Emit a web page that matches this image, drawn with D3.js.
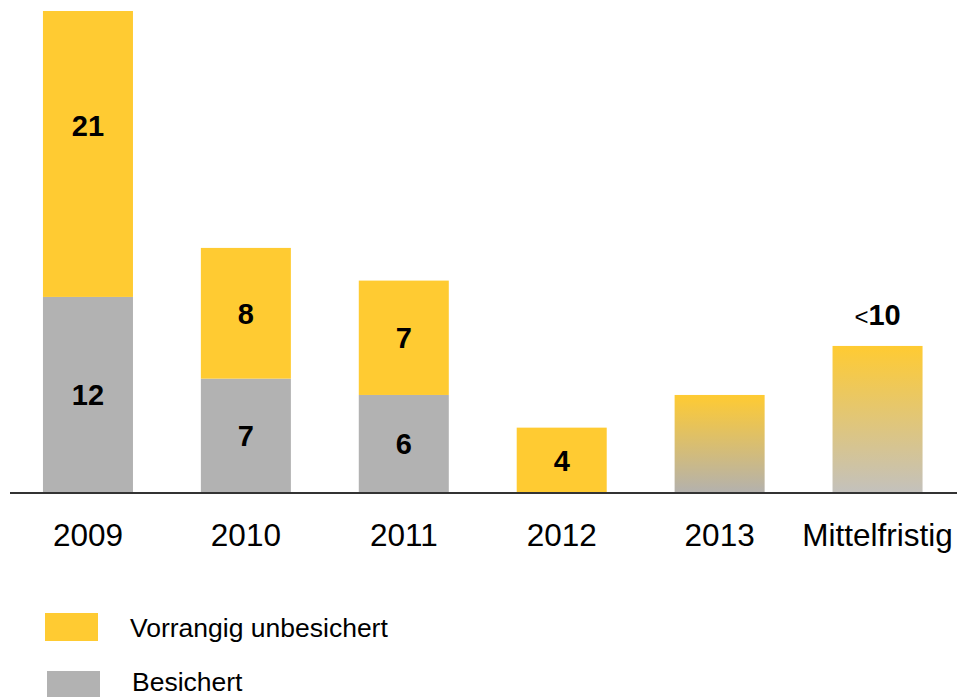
<!DOCTYPE html>
<html>
<head>
<meta charset="utf-8">
<script src="https://cdn.jsdelivr.net/npm/d3@7"></script>
<style>
  body { margin: 0; background: #fff; }
  text { font-family: Arial, "Liberation Sans", sans-serif; }
  .tick-label { font-size: 31.5px; fill: #000; }
  .value { font-size: 29px; font-weight: bold; fill: #000; }
  .legend-label { font-size: 26.5px; fill: #000; }
</style>
</head>
<body>
<svg class="chart" width="960" height="697"></svg>
<script>
// data
const years = ['2009', '2010', '2011', '2012', '2013', 'Mittelfristig']
const besichert = [12, 7, 6, 0, null, null]
const unbesichert = [21, 8, 7, 4, null, null]
// outlook bars (gradient, no split)
const outlook = [null, null, null, null, 6, 9]
const outlookLabels = [null, null, null, null, null, '10']
const seriesNames = ['Vorrangig unbesichert', 'Besichert']

const yellow = '#ffcb32'
const gray = '#b2b2b2'

const svg = d3.select('.chart')
const baseY = 493

const x = d3.scaleBand()
  .domain(years)
  .range([9, 956.5])
  .paddingInner(0.43)
  .paddingOuter(0.215)

// 2009 bar is cut off at the top of the picture
const y = d3.scaleLinear()
  .domain([0, 29.5])
  .range([baseY, 11])
  .clamp(true)
const yFree = y.copy().clamp(false)

const defs = svg.append('defs')
const gradEnds = { '2013': '#b3b1ae', 'Mittelfristig': '#c3c1bd' }
Object.keys(gradEnds).forEach((k, i) => {
  const lg = defs.append('linearGradient')
    .attr('id', 'grad' + i)
    .attr('x1', 0).attr('y1', 0).attr('x2', 0).attr('y2', 1)
  lg.append('stop').attr('offset', '0%').attr('stop-color', yellow)
  lg.append('stop').attr('offset', '100%').attr('stop-color', gradEnds[k])
})

const rows = years.map((yr, i) => ({
  year: yr,
  low: besichert[i] || 0,
  high: unbesichert[i] || 0,
  outlook: outlook[i],
  outLabel: outlookLabels[i]
}))

const bars = svg.append('g')

// gray segments
bars.selectAll('.seg-low')
  .data(rows.filter(d => d.low > 0))
  .enter()
  .append('rect')
  .attr('x', d => x(d.year))
  .attr('width', x.bandwidth())
  .attr('y', d => y(d.low))
  .attr('height', d => baseY - y(d.low))
  .attr('fill', gray)

// yellow segments
bars.selectAll('.seg-high')
  .data(rows.filter(d => d.high > 0))
  .enter()
  .append('rect')
  .attr('x', d => x(d.year))
  .attr('width', x.bandwidth())
  .attr('y', d => y(d.low + d.high))
  .attr('height', d => y(d.low) - y(d.low + d.high))
  .attr('fill', yellow)

// gradient bars
bars.selectAll('.seg-out')
  .data(rows.filter(d => d.outlook))
  .enter()
  .append('rect')
  .attr('x', d => x(d.year))
  .attr('width', x.bandwidth())
  .attr('y', d => y(d.outlook))
  .attr('height', d => baseY - y(d.outlook))
  .attr('fill', (d, i) => 'url(#grad' + i + ')')

// value labels, centred on the full (unclipped) segment
const labels = []
rows.forEach(d => {
  if (d.low > 0) labels.push({ year: d.year, v: d.low, mid: (yFree(0) + yFree(d.low)) / 2 })
  if (d.high > 0) labels.push({ year: d.year, v: d.high, mid: (yFree(d.low) + yFree(d.low + d.high)) / 2 })
})
svg.append('g').selectAll('text')
  .data(labels)
  .enter()
  .append('text')
  .attr('class', 'value')
  .attr('x', d => x(d.year) + x.bandwidth() / 2)
  .attr('y', d => d.mid + 10.5)
  .attr('text-anchor', 'middle')
  .text(d => d.v)

// "<10" above the last bar
const outText = svg.append('g').selectAll('text')
  .data(rows.filter(d => d.outLabel))
  .enter()
  .append('text')
  .attr('class', 'value')
  .attr('x', d => x(d.year) + x.bandwidth() / 2)
  .attr('y', d => y(d.outlook) - 21)
  .attr('text-anchor', 'middle')
outText.append('tspan').attr('font-weight', 'normal').attr('font-size', '24px').text('<')
outText.append('tspan').text(d => d.outLabel)

// baseline axis
const axis = svg.append('g')
  .attr('transform', `translate(0,${baseY})`)
  .call(d3.axisBottom(x).tickSize(0).tickPadding(25))
axis.select('.domain')
  .attr('d', 'M10,0H957')
  .attr('stroke', '#333')
  .attr('stroke-width', 2)
axis.selectAll('.tick text')
  .attr('class', 'tick-label')
  .attr('font-size', null)
  .attr('font-family', null)
  .attr('dy', '0.9em')

// legend
const legend = svg.append('g')
const legendRows = [
  { name: seriesNames[0], color: yellow, rx: 45, ry: 613, tx: 130, ty: 637 },
  { name: seriesNames[1], color: gray, rx: 47, ry: 671, tx: 132, ty: 691 }
]
legendRows.forEach(d => {
  legend.append('rect')
    .attr('x', d.rx).attr('y', d.ry)
    .attr('width', 53).attr('height', 28)
    .attr('fill', d.color)
  legend.append('text')
    .attr('class', 'legend-label')
    .attr('x', d.tx).attr('y', d.ty)
    .text(d.name)
})
</script>
</body>
</html>
